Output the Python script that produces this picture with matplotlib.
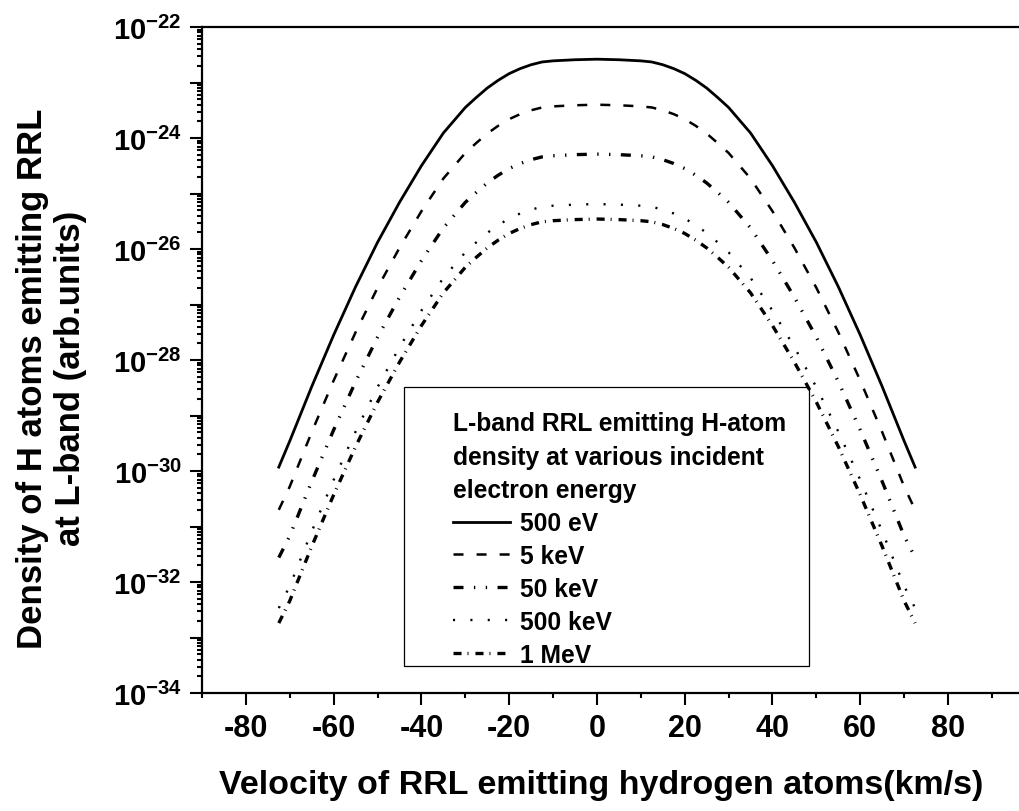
import numpy as np
import matplotlib
matplotlib.use("Agg")
import matplotlib.pyplot as plt
from matplotlib.ticker import LogLocator, FuncFormatter, NullFormatter, MultipleLocator
from matplotlib.patches import Rectangle

plt.rcParams['font.family'] = ['Liberation Sans', 'DejaVu Sans']
plt.rcParams['font.weight'] = 'bold'
plt.rcParams['mathtext.fontset'] = 'custom'
plt.rcParams['mathtext.rm'] = 'Liberation Sans:bold'
plt.rcParams['mathtext.bf'] = 'Liberation Sans:bold'
plt.rcParams['mathtext.default'] = 'bf'
plt.rcParams['lines.scale_dashes'] = False
plt.rcParams['axes.unicode_minus'] = False

# velocity (km/s)
velocity = [-72.5, -70, -65, -60, -55, -50, -45, -40, -35, -30, -27.5, -25, -22.5, -20,
            -17.5, -15, -12.5, -10, -5, 0, 5, 10, 12.5, 15, 17.5, 20, 22.5, 25, 27.5, 30,
            35, 40, 45, 50, 55, 60, 65, 70, 72.5]

# log10 of the density
log_500eV = [-29.93, -29.46, -28.48, -27.55, -26.68, -25.88, -25.16, -24.50, -23.91, -23.45,
             -23.27, -23.10, -22.96, -22.84, -22.75, -22.68, -22.63, -22.61, -22.59, -22.58,
             -22.59, -22.61, -22.63, -22.68, -22.75, -22.84, -22.96, -23.10, -23.27, -23.45,
             -23.91, -24.50, -25.16, -25.88, -26.68, -27.55, -28.48, -29.46, -29.93]
log_5keV = [-30.70, -30.28, -29.30, -28.37, -27.50, -26.70, -25.98, -25.32, -24.73, -24.27,
            -24.09, -23.92, -23.78, -23.66, -23.57, -23.50, -23.45, -23.43, -23.41, -23.40,
            -23.41, -23.43, -23.45, -23.50, -23.57, -23.66, -23.78, -23.92, -24.09, -24.27,
            -24.73, -25.32, -25.98, -26.70, -27.50, -28.37, -29.30, -30.28, -30.70]
log_50keV = [-31.56, -31.17, -30.19, -29.26, -28.39, -27.59, -26.87, -26.21, -25.62, -25.16,
             -24.98, -24.81, -24.67, -24.55, -24.46, -24.39, -24.34, -24.32, -24.30, -24.29,
             -24.30, -24.32, -24.34, -24.39, -24.46, -24.55, -24.67, -24.81, -24.98, -25.16,
             -25.62, -26.21, -26.87, -27.59, -28.39, -29.26, -30.19, -31.17, -31.56]
log_500keV = [-32.47, -32.07, -31.09, -30.16, -29.29, -28.49, -27.77, -27.11, -26.52, -26.06,
              -25.88, -25.71, -25.57, -25.45, -25.36, -25.29, -25.24, -25.22, -25.20, -25.19,
              -25.20, -25.22, -25.24, -25.29, -25.36, -25.45, -25.57, -25.71, -25.88, -26.06,
              -26.52, -27.11, -27.77, -28.49, -29.29, -30.16, -31.09, -32.07, -32.47]
log_1MeV = [-32.74, -32.34, -31.36, -30.43, -29.56, -28.76, -28.04, -27.38, -26.79, -26.33,
            -26.15, -25.98, -25.84, -25.72, -25.63, -25.56, -25.51, -25.49, -25.47, -25.46,
            -25.47, -25.49, -25.51, -25.56, -25.63, -25.72, -25.84, -25.98, -26.15, -26.33,
            -26.79, -27.38, -28.04, -28.76, -29.56, -30.43, -31.36, -32.34, -32.74]

labels = ['500 eV', '5 keV', '50 keV', '500 keV', '1 MeV']
series = [log_500eV, log_5keV, log_50keV, log_500keV, log_1MeV]
styles = ['-', (0, (7.2, 9.4)), (0, (7.2, 7.5, 1.0, 7.5, 1.0, 7.5)),
          (0, (1.5, 11)), (0, (5.8, 4.3, 0.7, 5.0))]
widths = [2.0, 1.8, 2.4, 1.7, 2.4]

fig = plt.figure(figsize=(10.2, 8.12), dpi=100)
ax = fig.add_axes([202 / 1020, 118 / 812, 818 / 1020, 666 / 812])

for vals, lab, ls, lw in zip(series, labels, styles, widths):
    ax.plot(velocity, np.power(10.0, vals), color='black', linestyle=ls, lw=lw, label=lab)

ax.set_yscale('log')
ax.set_xlim(-90, 96.4)
ax.set_ylim(1e-34, 1e-22)

ax.xaxis.set_major_locator(MultipleLocator(20))
ax.xaxis.set_minor_locator(MultipleLocator(10))
ax.yaxis.set_major_locator(LogLocator(base=10, numticks=20))
ax.yaxis.set_minor_locator(LogLocator(base=10, subs=np.arange(2, 10), numticks=20))
ax.yaxis.set_minor_formatter(NullFormatter())


def ylab(y, pos):
    e = int(round(np.log10(y)))
    if e % 2:
        return ''
    return r'$\mathbf{10^{%d}}$' % e


ax.yaxis.set_major_formatter(FuncFormatter(ylab))

ax.tick_params(which='both', direction='out', width=1.5, top=False, right=False)
ax.tick_params(axis='x', labelsize=22)
ax.tick_params(axis='y', labelsize=21)
ax.tick_params(which='major', length=8.5, pad=6)
ax.tick_params(which='minor', length=3.8)
for s in ['left', 'bottom', 'top']:
    ax.spines[s].set_linewidth(1.6)
ax.spines['right'].set_visible(False)

ax.set_xlabel('Velocity of RRL emitting hydrogen atoms(km/s)', fontsize=24.5, fontweight='bold')
ax.set_ylabel('Density of H atoms emitting RRL\nat L-band (arb.units)', fontsize=25,
              fontweight='bold', linespacing=1.2)
ax.xaxis.set_label_coords(0.488, -0.114)
ax.yaxis.set_label_coords(-0.140, 0.474)

leg = ax.legend(loc='upper left', bbox_to_anchor=(0.307, 0.423), frameon=False,
                fontsize=17.7, handlelength=2.33, handletextpad=0.37, labelspacing=0.36,
                borderpad=0, borderaxespad=0,
                title='L-band RRL emitting H-atom\ndensity at various incident\nelectron energy',
                title_fontproperties={'size': 17.7, 'weight': 'bold'}, alignment='left')
leg.get_title().set_linespacing(1.5)
ax.add_patch(Rectangle((0.2469, 0.0405), 0.4951, 0.4189, transform=ax.transAxes,
                       fill=False, edgecolor='black', lw=0.9, zorder=5))

fig.savefig('out.png', dpi=100)
